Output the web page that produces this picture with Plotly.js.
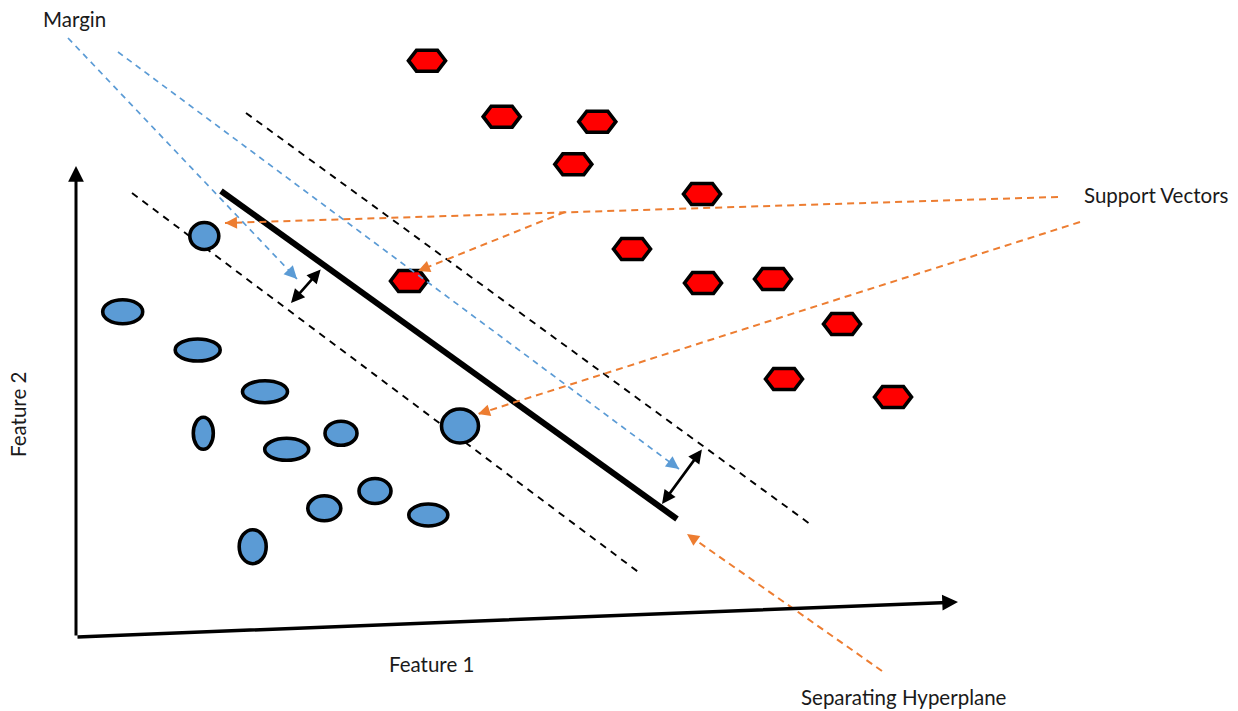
<!DOCTYPE html>
<html>
<head>
<meta charset="utf-8">
<script src="https://cdn.plot.ly/plotly-3.0.1.min.js"></script>
<style>html,body{margin:0;padding:0;background:#fff;}#chart{width:1238px;height:711px;}</style>
</head>
<body>
<div id="chart"></div>
<script>
// ---- Data (diagram coordinates, 1 unit = 1 px, y downward) ----
// Class A (blue ellipses): centres and radii
var blueX  = [122.7, 197.7, 265, 203.3, 286.7, 341, 460, 375, 324.3, 428.3, 252.7, 204.3];
var blueY  = [311.7, 350, 391.7, 433.3, 449.3, 433.3, 426, 491, 508.3, 515, 546.7, 236];
var blueRx = [20, 22.5, 22.5, 10, 22, 16, 18.5, 16, 16.5, 19.5, 13.5, 14.5];
var blueRy = [12, 11, 11, 16, 11, 12, 17, 12.5, 12.5, 11, 17, 13.5];
// Class B (red hexagons): centres
var redX = [427, 501.7, 597.3, 573.3, 702, 632, 409, 703, 773, 842, 784, 893];
var redY = [60.7, 116.7, 121.7, 164.3, 194, 249, 281, 283, 279, 324, 379, 397];
// Separating hyperplane [x0, y0, x1, y1]
var hyperplane = [221, 191, 677, 519];
// Margin boundaries (black dashed)
var marginLow  = [132, 193, 641, 574];
var marginHigh = [246, 113, 810, 524];
// "Margin" pointers (blue dashed arrows)
var marginPtr1 = [68, 38, 297, 279];
var marginPtr2 = [118, 52, 679, 469];
// Margin width double arrows
var gap1 = [322, 268, 291, 303];
var gap2 = [703, 448, 662, 504];
// Support vector / hyperplane pointers (orange dashed arrows)
var svPtr1 = [1058, 197, 225, 223];
var svPtr2 = [565, 212, 418, 271];
var svPtr3 = [1080, 222, 478, 414];
var hpPtr  = [882, 671, 687, 534];
// Feature axes
var axisY = [76, 637, 76, 166];
var axisX = [76, 637, 958, 602];
// Labels
var labelText = ["Margin", "Support Vectors", "Separating Hyperplane", "Feature 1", "Feature 2"];
var labelX = [41, 1082, 799, 431, 18];
var labelY = [19, 195, 697, 664, 415];
var labelAnchor = ["left", "left", "left", "center", "center"];
var labelAngle = [0, 0, 0, 0, -90];

// ---- Styles ----
var BLUE = "#5b9bd5", ORANGE = "#ed7d31", RED = "#ff0000";
var FONT = {family: "Lato, 'Open Sans', sans-serif", size: 20.5, color: "#1a1a1a"};

var shapes = [];
var annotations = [];

function lineShape(seg, color, width, dash) {
  shapes.push({type: "line", xref: "x", yref: "y",
    x0: seg[0], y0: seg[1], x1: seg[2], y1: seg[3],
    line: {color: color, width: width, dash: dash || "solid"}});
}
function headAt(seg, color, width, size) {
  var dx = seg[2] - seg[0], dy = seg[3] - seg[1];
  var L = Math.sqrt(dx * dx + dy * dy);
  annotations.push({xref: "x", yref: "y", axref: "x", ayref: "y",
    x: seg[2], y: seg[3], ax: seg[2] - dx / L * 10, ay: seg[3] - dy / L * 10,
    text: "", showarrow: true, arrowhead: 2, arrowsize: size, arrowwidth: width, arrowcolor: color});
}
function solidArrow(seg, width, size, both) {
  annotations.push({xref: "x", yref: "y", axref: "x", ayref: "y",
    x: seg[2], y: seg[3], ax: seg[0], ay: seg[1],
    text: "", showarrow: true, arrowhead: 2, startarrowhead: 2, arrowsize: size, startarrowsize: size,
    arrowwidth: width, arrowcolor: "#000", arrowside: both ? "end+start" : "end"});
}

// margins (behind points)
lineShape(marginLow, "#000", 1.9, "7px,6px");
lineShape(marginHigh, "#000", 1.9, "7px,6px");
// hyperplane
lineShape(hyperplane, "#000", 6);
// orange pointers
lineShape(svPtr1, ORANGE, 2, "7px,5px");
lineShape(svPtr2, ORANGE, 2, "7px,5px");
lineShape(svPtr3, ORANGE, 2, "7px,5px");
lineShape(hpPtr, ORANGE, 2, "7px,5px");

// blue ellipses
for (var i = 0; i < blueX.length; i++) {
  shapes.push({type: "circle", xref: "x", yref: "y",
    x0: blueX[i] - blueRx[i], x1: blueX[i] + blueRx[i],
    y0: blueY[i] - blueRy[i], y1: blueY[i] + blueRy[i],
    fillcolor: BLUE, line: {color: "#000", width: 3.6}});
}
// red hexagons
var HW = 18.5, HH = 10.5, HC = 8;
for (var j = 0; j < redX.length; j++) {
  var cx = redX[j], cy = redY[j];
  var p = "M" + (cx - HW) + "," + cy +
          " L" + (cx - HW + HC) + "," + (cy - HH) +
          " L" + (cx + HW - HC) + "," + (cy - HH) +
          " L" + (cx + HW) + "," + cy +
          " L" + (cx + HW - HC) + "," + (cy + HH) +
          " L" + (cx - HW + HC) + "," + (cy + HH) + " Z";
  shapes.push({type: "path", xref: "x", yref: "y", path: p,
    fillcolor: RED, line: {color: "#000", width: 3.6}});
}
// blue margin pointers (over points)
lineShape(marginPtr1, BLUE, 1.7, "6px,5px");
lineShape(marginPtr2, BLUE, 1.7, "6px,5px");

// arrowheads of dashed pointers
headAt(marginPtr1, BLUE, 1.7, 1.5);
headAt(marginPtr2, BLUE, 1.7, 1.5);
headAt(svPtr1, ORANGE, 2, 1.2);
headAt(svPtr2, ORANGE, 2, 1.2);
headAt(svPtr3, ORANGE, 2, 1.2);
headAt(hpPtr, ORANGE, 2, 1.2);

// axes and margin-width arrows
solidArrow(axisY, 3, 1.05, false);
solidArrow(axisX, 3.5, 0.9, false);
solidArrow(gap1, 2.6, 1.05, true);
solidArrow(gap2, 2.6, 1.05, true);

// labels
for (var k = 0; k < labelText.length; k++) {
  annotations.push({xref: "x", yref: "y", x: labelX[k], y: labelY[k], text: labelText[k],
    showarrow: false, xanchor: labelAnchor[k], yanchor: "middle", textangle: labelAngle[k], font: FONT});
}

var layout = {
  width: 1238, height: 711,
  margin: {l: 0, r: 0, t: 0, b: 0},
  paper_bgcolor: "#fff", plot_bgcolor: "#fff",
  xaxis: {range: [0, 1238], visible: false, fixedrange: true},
  yaxis: {range: [711, 0], visible: false, fixedrange: true},
  showlegend: false,
  shapes: shapes,
  annotations: annotations
};
var data = [{x: blueX.concat(redX), y: blueY.concat(redY), mode: "markers", type: "scatter",
  marker: {size: 1, opacity: 0}, hoverinfo: "skip"}];
Plotly.newPlot("chart", data, layout, {displayModeBar: false, staticPlot: true});
</script>
</body>
</html>
